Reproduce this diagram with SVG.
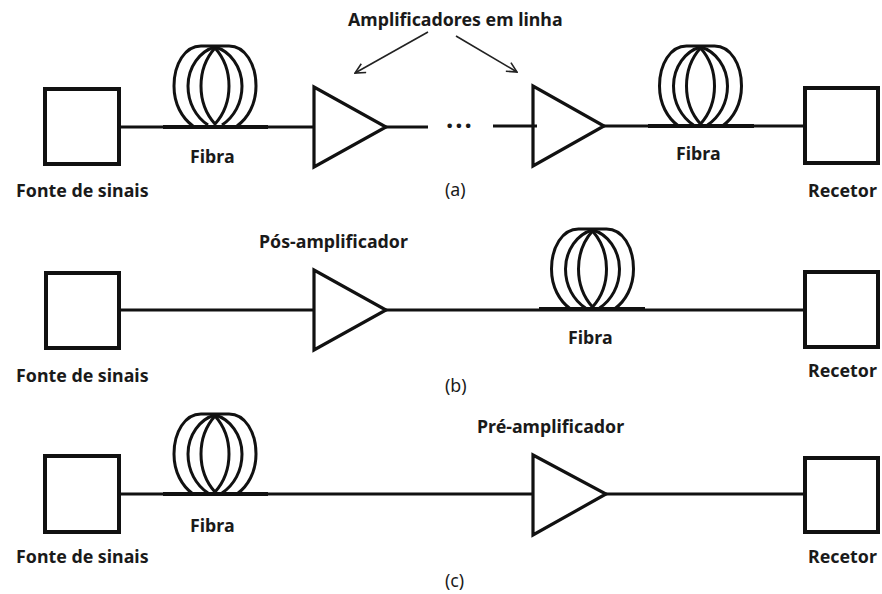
<svg xmlns="http://www.w3.org/2000/svg" width="882" height="594" viewBox="0 0 882 594">
<style>
.box{fill:none;stroke:#111;stroke-width:4}
.tri{fill:none;stroke:#111;stroke-width:3.2}
.wire{fill:none;stroke:#111;stroke-width:3}
.base{fill:none;stroke:#111;stroke-width:4}
.coil{fill:none;stroke:#111;stroke-width:3}
.ptr{fill:none;stroke:#222;stroke-width:1.6}
text{font-family:"Noto Sans","Open Sans","Liberation Sans",sans-serif;font-size:17.800px;fill:#1a1a1a}
.b{font-weight:700}
.dots{font-size:26px;letter-spacing:2px}
</style>
<defs>
<marker id="open" viewBox="0 0 12 12" refX="11" refY="6" markerWidth="12" markerHeight="12" markerUnits="userSpaceOnUse" orient="auto"><path d="M1 1L11 6L1 11" fill="none" stroke="#222" stroke-width="1.6"/></marker>
<g id="coilShape">
<path d="M0 -38C-9 -28 -14 -14 -14 0C-14 14 -9 28 0 38C9 28 14 14 14 0C14 -14 9 -28 0 -38Z"/>
<path d="M0 -39C-15 -35 -27 -19 -27 0C-27 17 -19 31 -7 39M0 -39C15 -35 27 -19 27 0C27 17 19 31 7 39"/>
<path d="M-14 -40H14C30 -40 41 -22 41 0C41 18 33 32 22 40M-14 -40C-30 -40 -41 -22 -41 0C-41 18 -33 32 -22 40"/>
</g>
</defs>
<g id="connectors">
<path class="wire" d="M120 127H314M386 127H428M493 126H537M604 126H803"/>
<path class="wire" d="M120 310H314M386 310H803"/>
<path class="wire" d="M120 494H533M606 494H803"/>
<path class="base" d="M163 127H268M648 126H754M539 309H645M163 494H268"/>
<path class="ptr" marker-end="url(#open)" d="M428 32L355 73"/>
<path class="ptr" marker-end="url(#open)" d="M456 36L517 72"/>
</g>
<g id="source-a"><rect class="box" x="45" y="89" width="74" height="75"/><text class="b" x="16" y="197">Fonte de sinais</text></g>
<g id="coil-a1"><use class="coil" href="#coilShape" x="215" y="86"/><text class="b" x="190" y="163">Fibra</text></g>
<g id="amp-a1"><path class="tri" d="M314 87V167L386 127Z"/></g>
<g id="gap-a"><text class="b dots" x="446" y="128">...</text></g>
<g id="amp-a2"><path class="tri" d="M533 86V166L604 126Z"/></g>
<g id="coil-a2"><use class="coil" href="#coilShape" x="700.500" y="86"/><text class="b" x="676" y="160">Fibra</text></g>
<g id="receiver-a"><rect class="box" x="805" y="88" width="73" height="75"/><text class="b" x="808" y="197">Recetor</text></g>
<g id="label-a"><text class="b" x="348" y="26">Amplificadores em linha</text><text x="445" y="196">(a)</text></g>
<g id="source-b"><rect class="box" x="46" y="273" width="73" height="75"/><text class="b" x="16" y="382">Fonte de sinais</text></g>
<g id="amp-b"><path class="tri" d="M314 270V350L386 310Z"/><text class="b" x="259" y="248">Pós-amplificador</text></g>
<g id="coil-b"><use class="coil" href="#coilShape" x="592.500" y="269"/><text class="b" x="568" y="344">Fibra</text></g>
<g id="receiver-b"><rect class="box" x="805" y="272" width="73" height="75"/><text class="b" x="808" y="377">Recetor</text></g>
<g id="label-b"><text x="445" y="392">(b)</text></g>
<g id="source-c"><rect class="box" x="45" y="456" width="74" height="76"/><text class="b" x="16" y="563">Fonte de sinais</text></g>
<g id="coil-c"><use class="coil" href="#coilShape" x="215" y="454"/><text class="b" x="190" y="532">Fibra</text></g>
<g id="amp-c"><path class="tri" d="M533 455V535L606 494Z"/><text class="b" x="477" y="433">Pré-amplificador</text></g>
<g id="receiver-c"><rect class="box" x="805" y="458" width="73" height="74"/><text class="b" x="808" y="563">Recetor</text></g>
<g id="label-c"><text x="445" y="587">(c)</text></g>
</svg>
